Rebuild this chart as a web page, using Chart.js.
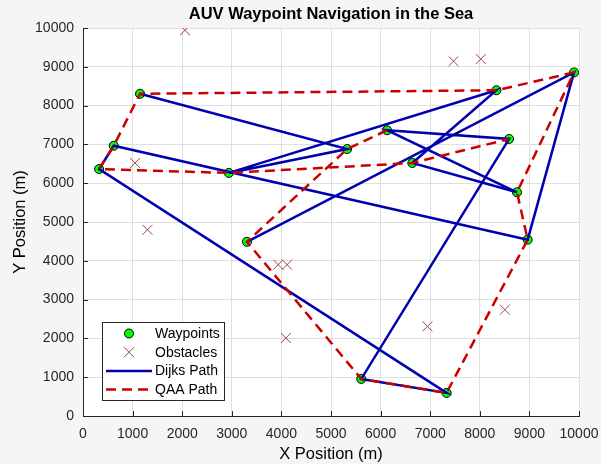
<!DOCTYPE html>
<html>
<head>
<meta charset="utf-8">
<title>AUV Waypoint Navigation in the Sea</title>
<script src="https://cdn.jsdelivr.net/npm/chart.js@4.4.1/dist/chart.umd.min.js"></script>
<style>
  html, body { margin: 0; padding: 0; background: #f5f5f5; }
  #wrap { width: 601px; height: 464px; }
</style>
</head>
<body>
<div id="wrap"><canvas id="chart" width="601" height="464"></canvas></div>
<script>
// Waypoint coordinates (m)
const waypointX = [1150, 620, 325, 2940, 5325, 6130, 8335, 9900, 8590, 6640, 8750, 8965, 5610, 7330, 3305];
const waypointY = [8305, 6965, 6365, 6265, 6880, 7365, 8395, 8855, 7140, 6520, 5765, 4545, 955, 595, 4490];

// Obstacle coordinates (m)
const obstacleX = [2055, 1050, 7470, 8020, 1300, 3935, 4115, 4090, 6945, 8505];
const obstacleY = [9940, 6520, 9145, 9200, 4800, 3900, 3900, 2010, 2310, 2740];

// Visiting order of the waypoints for each planner (indices into the waypoint arrays)
const dijksRoute = [0, 4, 3, 6, 9, 10, 5, 8, 12, 13, 2, 1, 11, 7, 14];
const qaaRoute   = [5, 4, 14, 12, 13, 11, 10, 7, 6, 0, 1, 2, 3, 9, 8];

// Axis range and tick spacing
const axisMin = 0;
const axisMax = 10000;
const tickStep = 1000;

const chartTitle = 'AUV Waypoint Navigation in the Sea';

const FONT = '"Liberation Sans", Arial, Helvetica, sans-serif';
const AXIS_COLOR = '#262626';

const waypoints = waypointX.map((x, i) => ({ x, y: waypointY[i] }));
const obstacles = obstacleX.map((x, i) => ({ x, y: obstacleY[i] }));
const routePoints = route => route.map(i => waypoints[i]);

// Figure background + white axes area
const background = {
  id: 'background',
  beforeDraw(chart) {
    const { ctx, chartArea: a } = chart;
    ctx.save();
    ctx.fillStyle = '#f5f5f5';
    ctx.fillRect(0, 0, chart.width, chart.height);
    ctx.fillStyle = '#ffffff';
    ctx.fillRect(a.left, a.top, a.right - a.left, a.bottom - a.top);
    ctx.restore();
  }
};

// Bold title centred over the plot area
const axesTitle = {
  id: 'axesTitle',
  afterDraw(chart) {
    const { ctx, chartArea: a } = chart;
    ctx.save();
    ctx.fillStyle = '#000000';
    ctx.font = 'bold 16.5px ' + FONT;
    ctx.textAlign = 'center';
    ctx.textBaseline = 'middle';
    ctx.fillText(chartTitle, (a.left + a.right) / 2, a.top - 14);
    ctx.restore();
  }
};

// Short inward tick marks on the left and bottom axes
const innerTicks = {
  id: 'innerTicks',
  afterDatasetsDraw(chart) {
    const { ctx, chartArea: a, scales } = chart;
    const len = 5;
    ctx.save();
    ctx.strokeStyle = AXIS_COLOR;
    ctx.lineWidth = 1;
    ctx.beginPath();
    scales.x.ticks.forEach(t => {
      const px = Math.round(scales.x.getPixelForValue(t.value)) + 0.5;
      ctx.moveTo(px, a.bottom);
      ctx.lineTo(px, a.bottom - len);
    });
    scales.y.ticks.forEach(t => {
      const py = Math.round(scales.y.getPixelForValue(t.value)) + 0.5;
      ctx.moveTo(a.left, py);
      ctx.lineTo(a.left + len, py);
    });
    ctx.stroke();
    ctx.restore();
  }
};

// Boxed legend in the lower-left corner of the plot area
const insideLegend = {
  id: 'insideLegend',
  afterDraw(chart) {
    const { ctx, chartArea: a } = chart;
    const left = a.left + 19, top = a.bottom - 94, w = 122, h = 78;
    const rowH = 18.7, firstRow = top + 11.5;
    const iconL = left + 4, iconR = left + 50, iconC = left + 27;
    ctx.save();
    ctx.fillStyle = '#ffffff';
    ctx.fillRect(left, top, w, h);
    ctx.strokeStyle = AXIS_COLOR;
    ctx.lineWidth = 1;
    ctx.strokeRect(Math.round(left) + 0.5, Math.round(top) + 0.5, w, h);
    ctx.font = '14px ' + FONT;
    ctx.textBaseline = 'middle';
    ctx.textAlign = 'left';
    chart.data.datasets.forEach((ds, i) => {
      const y = firstRow + i * rowH;
      if (ds.showLine) {
        ctx.beginPath();
        ctx.strokeStyle = ds.borderColor;
        ctx.lineWidth = ds.borderWidth;
        ctx.setLineDash(ds.borderDash || []);
        ctx.moveTo(iconL, y);
        ctx.lineTo(iconR, y);
        ctx.stroke();
        ctx.setLineDash([]);
      } else {
        ctx.fillStyle = ds.pointBackgroundColor;
        ctx.strokeStyle = ds.pointBorderColor;
        ctx.lineWidth = ds.pointBorderWidth;
        ctx.beginPath();
        Chart.helpers.drawPoint(ctx, {
          pointStyle: ds.pointStyle,
          radius: ds.pointRadius,
          borderWidth: ds.pointBorderWidth,
          rotation: 0
        }, iconC, y);
      }
      ctx.fillStyle = '#000000';
      ctx.fillText(ds.label, left + 53, y + 0.5);
    });
    ctx.restore();
  }
};

const scaleCommon = {
  type: 'linear',
  min: axisMin,
  max: axisMax,
  border: { display: true, color: AXIS_COLOR, width: 1 },
  grid: { color: '#dfdfdf', lineWidth: 1, drawTicks: false },
  ticks: {
    stepSize: tickStep,
    color: AXIS_COLOR,
    font: { family: FONT, size: 14 },
    padding: 9,
    maxRotation: 0,
    autoSkip: false,
    callback: v => String(v)
  },
  title: {
    display: true,
    color: '#000000',
    font: { family: FONT, size: 16.5 }
  }
};

new Chart(document.getElementById('chart'), {
  type: 'scatter',
  data: {
    datasets: [
      {
        label: 'Waypoints',
        data: waypoints,
        pointStyle: 'circle',
        pointRadius: 4.5,
        pointHoverRadius: 4.5,
        pointBackgroundColor: '#00ff00',
        pointBorderColor: '#000000',
        pointBorderWidth: 1,
        showLine: false,
        order: 4
      },
      {
        label: 'Obstacles',
        data: obstacles,
        pointStyle: 'crossRot',
        pointRadius: 7,
        pointHoverRadius: 7,
        pointBackgroundColor: '#9c4444',
        pointBorderColor: '#9c4444',
        pointBorderWidth: 1,
        showLine: false,
        order: 3
      },
      {
        label: 'Dijks Path',
        data: routePoints(dijksRoute),
        showLine: true,
        borderColor: '#0000b0',
        borderWidth: 2.5,
        pointRadius: 0,
        pointHoverRadius: 0,
        tension: 0,
        order: 2
      },
      {
        label: 'QAA Path',
        data: routePoints(qaaRoute),
        showLine: true,
        borderColor: '#cc0000',
        borderWidth: 2.5,
        borderDash: [10, 6],
        pointRadius: 0,
        pointHoverRadius: 0,
        tension: 0,
        order: 1
      }
    ]
  },
  options: {
    responsive: false,
    animation: false,
    devicePixelRatio: 1,
    layout: { padding: { top: 28, left: 0, right: 22, bottom: 0 } },
    plugins: {
      legend: { display: false },
      tooltip: { enabled: false },
      title: { display: false }
    },
    scales: {
      x: {
        ...scaleCommon,
        position: 'bottom',
        ticks: { ...scaleCommon.ticks, padding: 10 },
        title: { ...scaleCommon.title, text: 'X Position (m)', padding: { top: 0, bottom: 0 } },
        afterFit(scale) {
          scale.height = 48;
          scale.paddingLeft = 0;
          scale.paddingRight = 0;
        }
      },
      y: {
        ...scaleCommon,
        position: 'left',
        title: { ...scaleCommon.title, text: 'Y Position (m)', padding: { top: 11, bottom: 0 } },
        afterFit(scale) {
          scale.width = 83;
          scale.paddingTop = 0;
          scale.paddingBottom = 0;
        }
      }
    }
  },
  plugins: [background, innerTicks, insideLegend, axesTitle]
});
</script>
</body>
</html>
